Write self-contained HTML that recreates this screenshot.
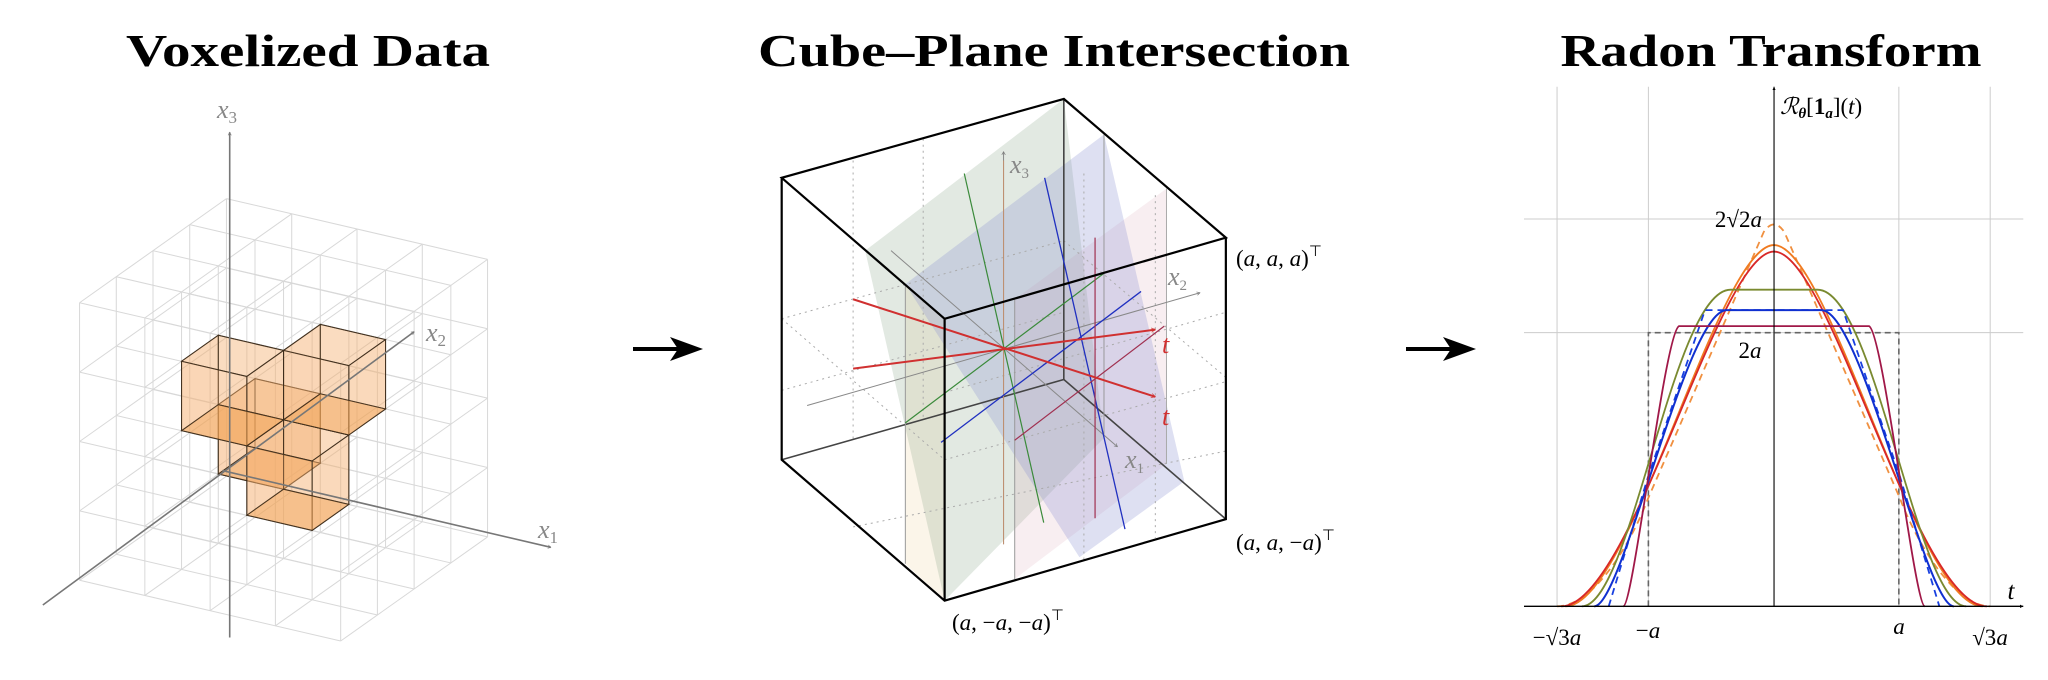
<!DOCTYPE html>
<html><head><meta charset="utf-8"><style>
html,body{margin:0;padding:0;background:#fff;}
svg{display:block}
.t{font-family:"Liberation Serif",serif;font-weight:bold;font-size:46px;text-anchor:middle;fill:#000}
.m{font-family:"Liberation Serif",serif;font-style:italic;font-size:26px}
</style></head><body>
<svg id="s" width="2048" height="680" viewBox="0 0 2048 680" xmlns="http://www.w3.org/2000/svg">
<defs>
<marker id="ag" markerWidth="10" markerHeight="10" refX="8" refY="5" orient="auto" markerUnits="userSpaceOnUse"><path d="M1,1 L8,5 L1,9" fill="none" stroke="#777" stroke-width="1.4"/></marker>
<marker id="ar" markerWidth="12" markerHeight="12" refX="10" refY="6" orient="auto" markerUnits="userSpaceOnUse"><path d="M1,1 L10,6 L1,11" fill="none" stroke="#d03030" stroke-width="1.5"/></marker>
<marker id="ak" markerWidth="10" markerHeight="10" refX="8" refY="5" orient="auto" markerUnits="userSpaceOnUse"><path d="M0,1 L8,5 L0,9 Z" fill="#000"/></marker>
</defs>
<text class="t" x="308" y="66" textLength="364" lengthAdjust="spacingAndGlyphs">Voxelized Data</text>
<text class="t" x="1054" y="66" textLength="592" lengthAdjust="spacingAndGlyphs">Cube–Plane Intersection</text>
<text class="t" x="1771" y="66" textLength="421" lengthAdjust="spacingAndGlyphs">Radon Transform</text>

<line x1="633" y1="349" x2="685" y2="349" stroke="#000" stroke-width="4"/>
<path d="M670,337 L703,349 L670,361 L678,349 Z" fill="#000"/>
<line x1="1406" y1="349" x2="1458" y2="349" stroke="#000" stroke-width="4"/>
<path d="M1443,337 L1476,349 L1443,361 L1451,349 Z" fill="#000"/>

<g id="p1" transform="translate(0,0) scale(0.408,0.4337)"></g>
<text class="m" x="217" y="118" fill="#888">x<tspan font-size="17" font-style="normal" dy="5">3</tspan></text>
<text class="m" x="426" y="341" fill="#888">x<tspan font-size="17" font-style="normal" dy="5">2</tspan></text>
<text class="m" x="538" y="538" fill="#888">x<tspan font-size="17" font-style="normal" dy="5">1</tspan></text>

<g transform="translate(700,0) scale(0.4464,0.4337)">
 <polygon points="460,660 548,735 548,1385 460,1300" fill="#f0d8a8" fill-opacity="0.25"/>
 <polygon points="370,578 815,228 905,1010 548,1385" fill="#8aa88a" fill-opacity="0.25"/>
 <polygon points="705,690 1045,435 1045,1070 705,1335" fill="#d8a0b0" fill-opacity="0.18"/>
 <polygon points="460,655 905,310 1085,1110 850,1285" fill="#8a90d0" fill-opacity="0.28"/>
 <g stroke="#aaa" stroke-width="1" stroke-dasharray="2,4" fill="none">
  <line x1="343" y1="370" x2="343" y2="1020" vector-effect="non-scaling-stroke"/>
  <line x1="500" y1="320" x2="500" y2="970" vector-effect="non-scaling-stroke"/>
  <line x1="1020" y1="450" x2="1020" y2="1240" vector-effect="non-scaling-stroke"/>
  <line x1="860" y1="400" x2="860" y2="1290" vector-effect="non-scaling-stroke"/>
  <line x1="183" y1="735" x2="815" y2="555" vector-effect="non-scaling-stroke"/>
  <line x1="183" y1="900" x2="815" y2="720" vector-effect="non-scaling-stroke"/>
  <line x1="815" y1="555" x2="1178" y2="870" vector-effect="non-scaling-stroke"/>
  <line x1="183" y1="735" x2="548" y2="1060" vector-effect="non-scaling-stroke"/>
  <line x1="548" y1="1060" x2="1178" y2="880" vector-effect="non-scaling-stroke"/>
  <line x1="343" y1="1215" x2="1178" y2="1040" vector-effect="non-scaling-stroke"/>
  <line x1="548" y1="905" x2="1178" y2="720" vector-effect="non-scaling-stroke"/>
 </g>
 <g fill="none">
  <line x1="815" y1="228" x2="815" y2="875" stroke="#444" stroke-width="1.6" vector-effect="non-scaling-stroke"/>
  <line x1="183" y1="1060" x2="815" y2="875" stroke="#444" stroke-width="1.6" vector-effect="non-scaling-stroke"/>
  <line x1="815" y1="875" x2="1178" y2="1197" stroke="#444" stroke-width="1.6" vector-effect="non-scaling-stroke"/>
  <line x1="460" y1="660" x2="460" y2="1300" stroke="#999" stroke-width="1" vector-effect="non-scaling-stroke"/>
  <line x1="705" y1="690" x2="705" y2="1335" stroke="#999" stroke-width="1" vector-effect="non-scaling-stroke"/>
  <line x1="905" y1="310" x2="905" y2="1010" stroke="#999" stroke-width="1" vector-effect="non-scaling-stroke"/>
  <line x1="1045" y1="435" x2="1045" y2="1070" stroke="#aaa" stroke-width="1" vector-effect="non-scaling-stroke"/>
  <line x1="680" y1="1255" x2="680" y2="350" stroke="#888" stroke-width="1" marker-end="url(#ag)" vector-effect="non-scaling-stroke"/>
  <line x1="680" y1="370" x2="680" y2="1255" stroke="#c09070" stroke-width="1" vector-effect="non-scaling-stroke"/>
  <line x1="240" y1="935" x2="1120" y2="675" stroke="#888" stroke-width="1" marker-end="url(#ag)" vector-effect="non-scaling-stroke"/>
  <line x1="428" y1="578" x2="935" y2="1030" stroke="#888" stroke-width="1" marker-end="url(#ag)" vector-effect="non-scaling-stroke"/>
  <line x1="592" y1="400" x2="770" y2="1205" stroke="#3a8a3a" stroke-width="1.2" vector-effect="non-scaling-stroke"/>
  <line x1="460" y1="975" x2="905" y2="630" stroke="#3a8a3a" stroke-width="1.2" vector-effect="non-scaling-stroke"/>
  <line x1="772" y1="410" x2="952" y2="1220" stroke="#2030c0" stroke-width="1.3" vector-effect="non-scaling-stroke"/>
  <line x1="540" y1="1020" x2="988" y2="672" stroke="#2030c0" stroke-width="1.3" vector-effect="non-scaling-stroke"/>
  <line x1="885" y1="548" x2="885" y2="1195" stroke="#a03050" stroke-width="1.2" vector-effect="non-scaling-stroke"/>
  <line x1="705" y1="1015" x2="1040" y2="752" stroke="#a03050" stroke-width="1.2" vector-effect="non-scaling-stroke"/>
  <line x1="343" y1="690" x2="1020" y2="915" stroke="#d03030" stroke-width="2" marker-end="url(#ar)" vector-effect="non-scaling-stroke"/>
  <line x1="343" y1="850" x2="1020" y2="760" stroke="#d03030" stroke-width="2" marker-end="url(#ar)" vector-effect="non-scaling-stroke"/>
  <path d="M815,228 L183,410 L548,735 L1178,548 Z M183,410 L183,1060 L548,1385 L1178,1197 L1178,548 M548,735 L548,1385 M815,228 L1178,548" stroke="#000" stroke-width="2.2" vector-effect="non-scaling-stroke"/>
 </g>
</g>
<g font-family="Liberation Serif,serif" font-size="23" fill="#000">
<text x="1236" y="266">(<tspan font-style="italic">a</tspan>, <tspan font-style="italic">a</tspan>, <tspan font-style="italic">a</tspan>)<tspan font-size="15" dy="-10">⊤</tspan></text>
<text x="1236" y="550">(<tspan font-style="italic">a</tspan>, <tspan font-style="italic">a</tspan>, −<tspan font-style="italic">a</tspan>)<tspan font-size="15" dy="-10">⊤</tspan></text>
<text x="952" y="630">(<tspan font-style="italic">a</tspan>, −<tspan font-style="italic">a</tspan>, −<tspan font-style="italic">a</tspan>)<tspan font-size="15" dy="-10">⊤</tspan></text>
</g>
<text class="m" x="1010" y="173" fill="#888" font-size="23">x<tspan font-size="15" font-style="normal" dy="5">3</tspan></text>
<text class="m" x="1168" y="285" fill="#888" font-size="23">x<tspan font-size="15" font-style="normal" dy="5">2</tspan></text>
<text class="m" x="1125" y="468" fill="#888" font-size="23">x<tspan font-size="15" font-style="normal" dy="5">1</tspan></text>
<text class="m" x="1162" y="353" fill="#d03030" font-size="25">t</text>
<text class="m" x="1162" y="425" fill="#d03030" font-size="25">t</text>

<g transform="translate(1400,0) scale(0.4133,0.4337)" fill="none">
 <g stroke="#ccc" stroke-width="1">
  <line x1="380" y1="200" x2="380" y2="1398" vector-effect="non-scaling-stroke"/>
  <line x1="601" y1="200" x2="601" y2="1398" vector-effect="non-scaling-stroke"/>
  <line x1="1207" y1="200" x2="1207" y2="1398" vector-effect="non-scaling-stroke"/>
  <line x1="1428" y1="200" x2="1428" y2="1398" vector-effect="non-scaling-stroke"/>
  <line x1="300" y1="505" x2="1508" y2="505" vector-effect="non-scaling-stroke"/>
  <line x1="300" y1="767" x2="1508" y2="767" vector-effect="non-scaling-stroke"/>
 </g>
 <path d="M601,1398 L601,767 L1207,767 L1207,1398" stroke="#666" stroke-width="1.6" stroke-dasharray="6,4" vector-effect="non-scaling-stroke"/>
 <path d="M380,1398 C470,1398 560,1250 600,1150 L880,535 Q905,500 930,535 L1210,1150 C1250,1250 1340,1398 1428,1398" stroke="#f09040" stroke-width="1.8" stroke-dasharray="7,5" vector-effect="non-scaling-stroke"/>
 <path d="M400,1398 C560,1398 770,565 905,565 C1040,565 1250,1398 1410,1398" stroke="#f07a20" stroke-width="1.8" vector-effect="non-scaling-stroke"/>
 <path d="M390,1398 C560,1398 770,580 905,580 C1040,580 1250,1398 1420,1398" stroke="#d82828" stroke-width="1.8" vector-effect="non-scaling-stroke"/>
 <path d="M440,1398 C560,1398 660,668 800,668 L1010,668 C1150,668 1250,1398 1370,1398" stroke="#7a8a30" stroke-width="1.8" vector-effect="non-scaling-stroke"/>
 <path d="M505,1398 L600,1100 L738,715 L1072,715 L1210,1100 L1305,1398" stroke="#1840e0" stroke-width="1.8" stroke-dasharray="7,5" vector-effect="non-scaling-stroke"/>
 <path d="M470,1398 C540,1398 690,718 790,715 L1020,715 C1120,718 1270,1398 1340,1398" stroke="#1030d0" stroke-width="2" vector-effect="non-scaling-stroke"/>
 <path d="M540,1398 C565,1398 640,770 675,752 L1135,752 C1170,770 1245,1398 1270,1398" stroke="#a01848" stroke-width="1.8" vector-effect="non-scaling-stroke"/>
 <line x1="300" y1="1398" x2="1508" y2="1398" stroke="#000" stroke-width="1.4" marker-end="url(#ak)" vector-effect="non-scaling-stroke"/>
 <line x1="905" y1="1398" x2="905" y2="200" stroke="#000" stroke-width="1.1" marker-end="url(#ak)" vector-effect="non-scaling-stroke"/>
</g>
<g fill="#000" font-family="Liberation Serif,serif" font-size="23">
 <text x="1780" y="114"><tspan font-style="italic">ℛ</tspan><tspan font-style="italic" font-weight="bold" font-size="15" dy="4">θ</tspan><tspan dy="-4">[</tspan><tspan font-weight="bold">1</tspan><tspan font-style="italic" font-weight="bold" font-size="15" dy="4">a</tspan><tspan dy="-4">](</tspan><tspan font-style="italic">t</tspan>)</text>
 <text x="1762" y="227" text-anchor="end">2√2<tspan font-style="italic">a</tspan></text>
 <text x="1750" y="358" text-anchor="middle">2<tspan font-style="italic">a</tspan></text>
 <text x="1557" y="645" text-anchor="middle">−√3<tspan font-style="italic">a</tspan></text>
 <text x="1648" y="638" text-anchor="middle">−<tspan font-style="italic">a</tspan></text>
 <text x="1899" y="634" text-anchor="middle" font-style="italic">a</text>
 <text x="1990" y="645" text-anchor="middle">√3<tspan font-style="italic">a</tspan></text>
 <text x="2011" y="599" text-anchor="middle" font-style="italic" font-size="25">t</text>
</g>
</svg>
<script>
(function(){
var NS="http://www.w3.org/2000/svg";
var g=document.getElementById("p1");
var B=[195,1338],e1=[160,35],e2=[90,-60],e3=[0,-160];
function P(i,j,k){return [B[0]+i*e1[0]+j*e2[0]+k*e3[0],B[1]+i*e1[1]+j*e2[1]+k*e3[1]];}
function line(a,b,c,w,extra){var l=document.createElementNS(NS,"line");l.setAttribute("x1",a[0]);l.setAttribute("y1",a[1]);l.setAttribute("x2",b[0]);l.setAttribute("y2",b[1]);l.setAttribute("stroke",c);l.setAttribute("stroke-width",w);l.setAttribute("vector-effect","non-scaling-stroke");if(extra)l.setAttribute("marker-end",extra);g.appendChild(l);}
var gc="#d8d8d8";
for(var a=0;a<=4;a++)for(var b=0;b<=4;b++){
 line(P(0,a,b),P(4,a,b),gc,1);
 line(P(a,0,b),P(a,4,b),gc,1);
 line(P(a,b,0),P(a,b,4),gc,1);
}
var vox=[[1,2,1],[2,1,1],[1,1,2],[2,2,2]];
function poly(pts,fill,op){var p=document.createElementNS(NS,"polygon");p.setAttribute("points",pts.map(function(q){return q[0]+","+q[1];}).join(" "));p.setAttribute("fill",fill);p.setAttribute("fill-opacity",op);p.setAttribute("stroke","#3a2a1a");p.setAttribute("stroke-width","1");p.setAttribute("stroke-opacity","0.85");p.setAttribute("vector-effect","non-scaling-stroke");g.appendChild(p);}
vox.forEach(function(v){
 var i=v[0],j=v[1],k=v[2];
 poly([P(i,j+1,k),P(i+1,j+1,k),P(i+1,j+1,k+1),P(i,j+1,k+1)],"#f4b070",0.25);
 poly([P(i,j,k+1),P(i+1,j,k+1),P(i+1,j+1,k+1),P(i,j+1,k+1)],"#f4b070",0.25);
 poly([P(i,j,k),P(i,j+1,k),P(i,j+1,k+1),P(i,j,k+1)],"#f4b070",0.3);
 poly([P(i+1,j,k),P(i+1,j+1,k),P(i+1,j+1,k+1),P(i+1,j,k+1)],"#f4b070",0.3);
 poly([P(i,j,k),P(i+1,j,k),P(i+1,j,k+1),P(i,j,k+1)],"#f4b070",0.3);
 poly([P(i,j,k),P(i+1,j,k),P(i+1,j+1,k),P(i,j+1,k)],"#f0a050",0.55);
});
line([563,1470],[563,305],"#777",1.6,"url(#ag)");
line([545,1085],[1350,1262],"#777",1.6,"url(#ag)");
line([105,1395],[1015,765],"#777",1.6,"url(#ag)");
})();
</script>
</body></html>
